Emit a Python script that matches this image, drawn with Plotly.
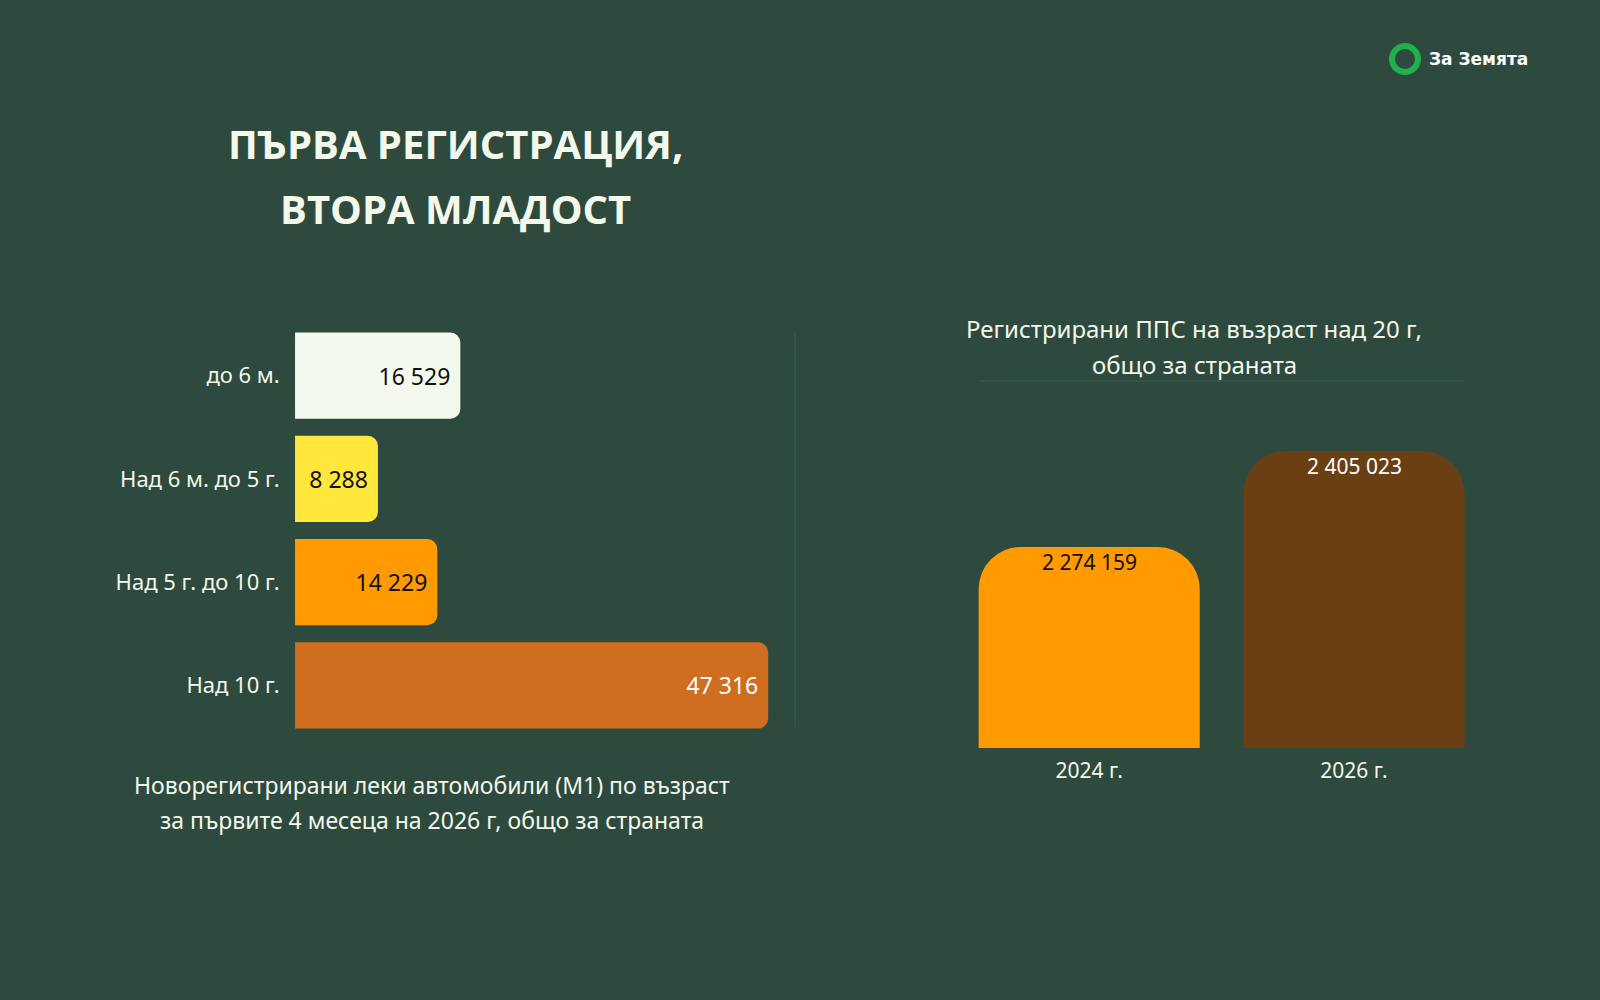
import plotly.graph_objects as go

# left chart: new registrations by age (first 4 months of 2026)
age_groups = ["до 6 м.", "Над 6 м. до 5 г.", "Над 5 г. до 10 г.", "Над 10 г."]
new_regs = [16529, 8288, 14229, 47316]
left_colors = ["#f3faed", "#ffe83b", "#ff9a00", "#cf6e1f"]
left_text_colors = ["#111111", "#111111", "#111111", "#ffffff"]

# right chart: registered cars older than 20 years
years = ["2024 г.", "2026 г."]
old_cars = [2274159, 2405023]
right_colors = ["#ff9a00", "#6b3f14"]
right_text_colors = ["#111111", "#ffffff"]

BG = "#2e4a3f"
TXT = "#f2f8ea"
FONT = "Noto Sans"


def fmt(v):
    return f"{v:,}".replace(",", " ")


fig = go.Figure()

fig.add_trace(go.Bar(
    y=age_groups, x=new_regs, orientation="h",
    marker=dict(color=left_colors, cornerradius=10, line=dict(width=0)),
    text=[fmt(v) for v in new_regs],
    textposition="inside", insidetextanchor="end",
    textfont=dict(size=23, color=left_text_colors, family=FONT),
    xaxis="x", yaxis="y", hoverinfo="skip",
))

fig.add_trace(go.Bar(
    x=years, y=old_cars,
    marker=dict(color=right_colors, cornerradius=42, line=dict(width=0)),
    xaxis="x2", yaxis="y2", hoverinfo="skip",
))

# value labels just under the top of each right-hand bar
for yr, v, c in zip(years, old_cars, right_text_colors):
    fig.add_annotation(x=yr, y=v, xref="x2", yref="y2", text=fmt(v),
                       showarrow=False, yanchor="top", yshift=1,
                       font=dict(size=21, color=c, family=FONT))

fig.update_layout(
    width=1600, height=1000,
    margin=dict(l=0, r=0, t=0, b=0),
    paper_bgcolor=BG, plot_bgcolor=BG,
    showlegend=False, bargap=0.165,
    font=dict(family=FONT, color=TXT),
    xaxis=dict(domain=[0.1844, 0.4969], range=[0, 50000], visible=False, fixedrange=True),
    yaxis=dict(domain=[0.263, 0.676], autorange="reversed", showgrid=False,
               zeroline=False, showline=False, ticks="outside", ticklen=10,
               tickcolor="rgba(0,0,0,0)", tickfont=dict(size=22, color=TXT)),
    xaxis2=dict(domain=[0.598, 0.929], anchor="y2", showgrid=False, showline=False,
                ticks="outside", ticklen=4, tickcolor="rgba(0,0,0,0)",
                tickfont=dict(size=21, color=TXT)),
    yaxis2=dict(domain=[0.252, 0.6186], anchor="x2", range=[2000000, 2500000],
                visible=False),
)

# divider lines
fig.add_shape(type="line", xref="paper", yref="paper",
              x0=795/1600, x1=795/1600, y0=1-332/1000, y1=1-727/1000,
              line=dict(color="#3f5c50", width=1))
fig.add_shape(type="line", xref="paper", yref="paper",
              x0=980/1600, x1=1464/1600, y0=1-381/1000, y1=1-381/1000,
              line=dict(color="#3f5c50", width=1))


def label(txt, x, y, size, family=FONT, color=TXT, xanchor="center"):
    fig.add_annotation(text=txt, x=x/1600, y=1-y/1000, xref="paper", yref="paper",
                       xanchor=xanchor, yanchor="middle", showarrow=False,
                       font=dict(size=size, color=color, family=family))


# title
label("<b>ПЪРВА РЕГИСТРАЦИЯ,</b>", 456, 143, 40, family="Open Sans")
label("<b>ВТОРА МЛАДОСТ</b>", 456, 209, 40, family="Open Sans")

# captions
label("Новорегистрирани леки автомобили (М1) по възраст", 432, 785, 23)
label("за първите 4 месеца на 2026 г, общо за страната", 432, 820, 23)
label("Регистрирани ППС на възраст над 20 г,", 1194, 328, 24)
label("общо за страната", 1194, 364, 24)

# logo
fig.add_shape(type="circle", xref="paper", yref="paper",
              x0=(1405-13)/1600, x1=(1405+13)/1600, y0=1-(59+13)/1000, y1=1-(59-13)/1000,
              line=dict(color="#1fb14b", width=6))
label("<b>За Земята</b>", 1427, 59, 17, family="DejaVu Sans", color="#ffffff", xanchor="left")

fig.write_html("out.html", config={"displayModeBar": False},
               post_script="document.body.style.margin='0';"
               "document.body.style.background='%s';" % BG)
